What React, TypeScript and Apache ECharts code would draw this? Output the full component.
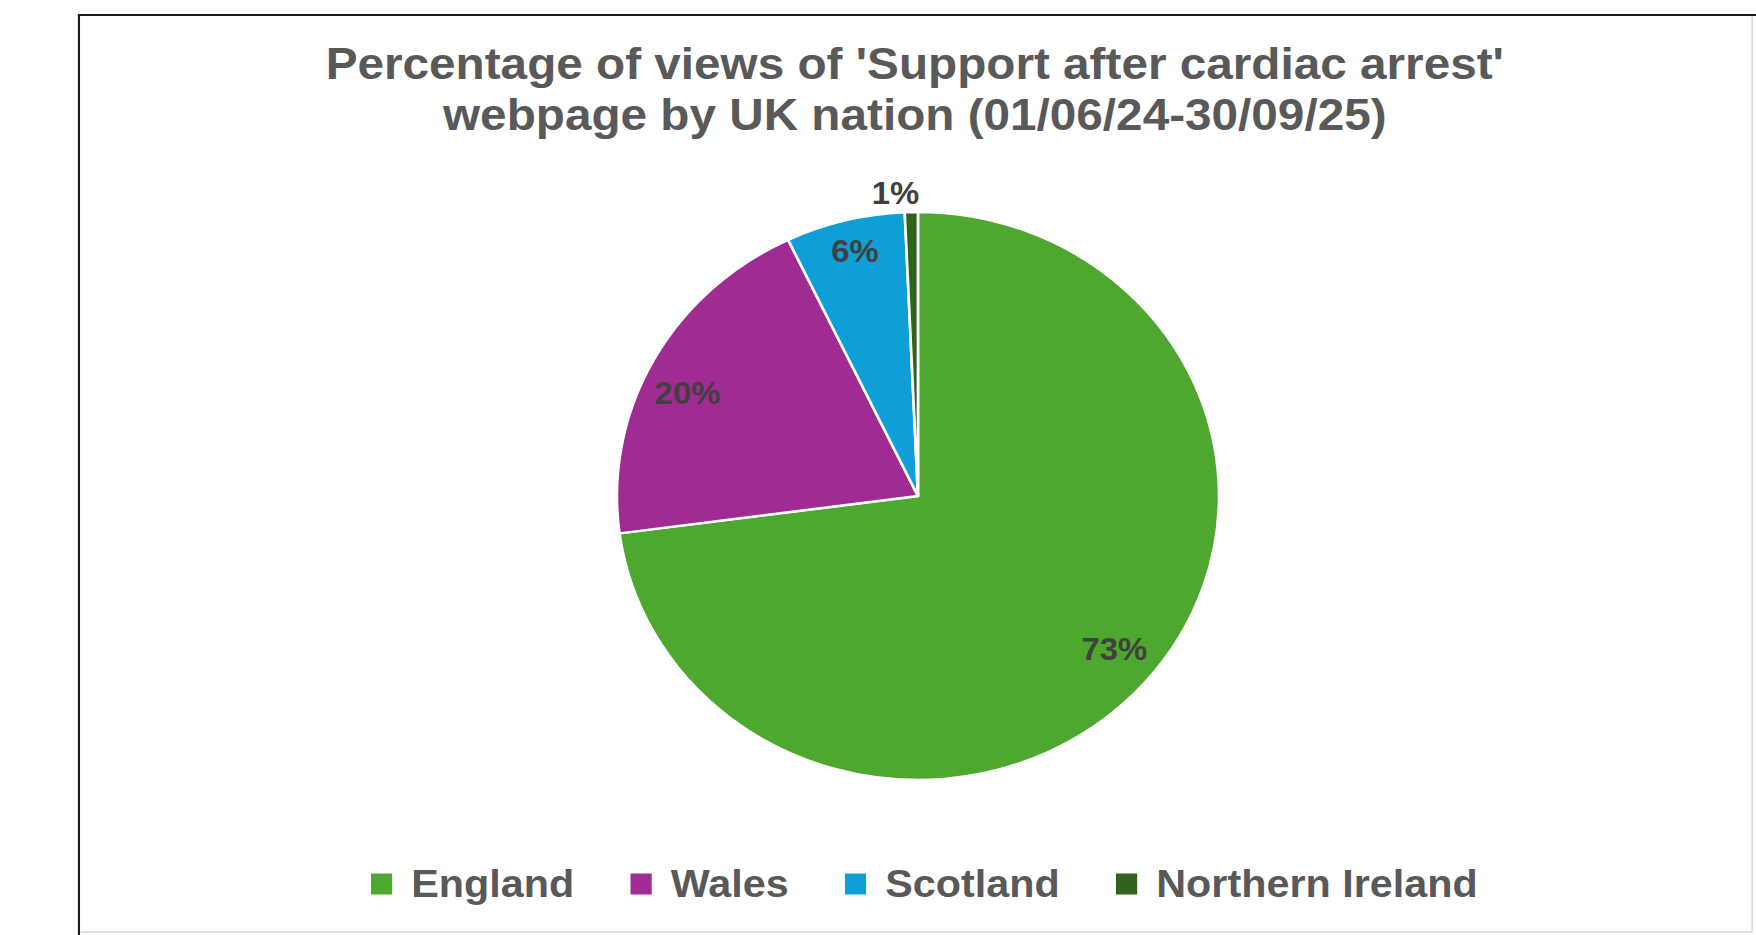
import React, { useEffect, useRef } from "react";
import * as echarts from "echarts";

const titleLines = [
  "Percentage of views of 'Support after cardiac arrest'",
  "webpage by UK nation (01/06/24-30/09/25)",
];
const nations = ["England", "Wales", "Scotland", "Northern Ireland"];
const shares = [72.9, 20.0, 6.4, 0.7];
const colors = ["#4EA72E", "#A02B93", "#0F9ED5", "#2E621D"];

const STRETCH = 1.06;
const W = 1756;
const H = 935;
const innerW = W / STRETCH;

// per-slice label nudges (Excel "best fit" placement)
const labelNudges = [
  [1, -8],
  [-2, 14],
  [0, -7],
  [-14.5, 0],
];

export default function App() {
  const ref = useRef<HTMLDivElement>(null);
  useEffect(() => {
    const chart = echarts.init(ref.current!, null, { renderer: "svg" });
    const data = nations.map((n, i) => ({
      name: n,
      value: shares[i],
      itemStyle: { color: colors[i] },
    }));
    const fmt = (p: any) => `${Math.round(p.value)}%`;
    const labelStyle = {
      fontFamily: "Liberation Sans",
      fontWeight: "bold",
      fontSize: 31,
      color: "#404040",
    };
    const nudge = (p: any) => ({
      dx: labelNudges[p.dataIndex][0],
      dy: labelNudges[p.dataIndex][1],
    });
    const clear = { color: "rgba(0,0,0,0)", borderWidth: 0 };
    chart.setOption({
      animation: false,
      backgroundColor: "#ffffff",
      title: {
        text: titleLines.join("\n"),
        left: 863,
        textAlign: "center",
        top: 38,
        padding: 0,
        textStyle: {
          fontFamily: "Liberation Sans",
          fontWeight: "bold",
          fontSize: 45,
          lineHeight: 51,
          color: "#595959",
        },
      },
      legend: {
        data: nations,
        left: 350,
        top: 862,
        padding: 0,
        icon: "rect",
        itemWidth: 20,
        itemHeight: 21,
        itemGap: 53,
        selectedMode: false,
        itemStyle: { borderWidth: 0 },
        textStyle: {
          fontFamily: "Liberation Sans",
          fontWeight: "bold",
          fontSize: 39,
          lineHeight: 44,
          color: "#595959",
          padding: [0, 0, 0, 13],
        },
      },
      graphic: [
        { type: "line", silent: true, shape: { x1: 73.5, y1: 15, x2: innerW, y2: 15 }, style: { stroke: "#1a1a1a", lineWidth: 2 } },
        { type: "line", silent: true, shape: { x1: 74.5, y1: 14, x2: 74.5, y2: H }, style: { stroke: "#1a1a1a", lineWidth: 2 } },
        { type: "line", silent: true, shape: { x1: 1653, y1: 16, x2: 1653, y2: 932 }, style: { stroke: "#d9d9d9", lineWidth: 1.5 } },
        { type: "line", silent: true, shape: { x1: 76, y1: 932, x2: 1653, y2: 932 }, style: { stroke: "#d9d9d9", lineWidth: 1.5 } },
      ],
      series: [
        {
          type: "pie",
          name: "views",
          center: [866, 496],
          radius: [0, 284],
          startAngle: 90,
          clockwise: true,
          silent: true,
          avoidLabelOverlap: false,
          label: { show: false },
          labelLine: { show: false },
          itemStyle: { borderColor: "#ffffff", borderWidth: 2.5 },
          data,
        },
        {
          type: "pie",
          name: "labels",
          center: [866, 496],
          radius: [200, 284],
          startAngle: 90,
          clockwise: true,
          silent: true,
          avoidLabelOverlap: false,
          itemStyle: clear,
          labelLine: { show: false },
          label: { show: true, position: "inside", formatter: fmt, ...labelStyle },
          labelLayout: nudge,
          data: nations.map((n, i) => ({
            name: n,
            value: shares[i],
            itemStyle: clear,
            label: { show: shares[i] >= 2 },
          })),
        },
        {
          type: "pie",
          name: "outer labels",
          center: [866, 496],
          radius: [288, 312],
          startAngle: 90,
          clockwise: true,
          silent: true,
          avoidLabelOverlap: false,
          itemStyle: clear,
          labelLine: { show: false },
          label: { show: true, position: "inside", formatter: fmt, ...labelStyle },
          labelLayout: nudge,
          data: nations.map((n, i) => ({
            name: n,
            value: shares[i],
            itemStyle: clear,
            label: { show: shares[i] < 2 },
          })),
        },
      ],
    });
    return () => chart.dispose();
  }, []);
  return (
    <div
      style={{
        position: "absolute",
        left: 0,
        top: 0,
        width: W,
        height: H,
        overflow: "hidden",
        background: "#ffffff",
      }}
    >
      <div
        ref={ref}
        style={{
          width: innerW,
          height: H,
          transform: `scaleX(${STRETCH})`,
          transformOrigin: "0 0",
        }}
      />
    </div>
  );
}
